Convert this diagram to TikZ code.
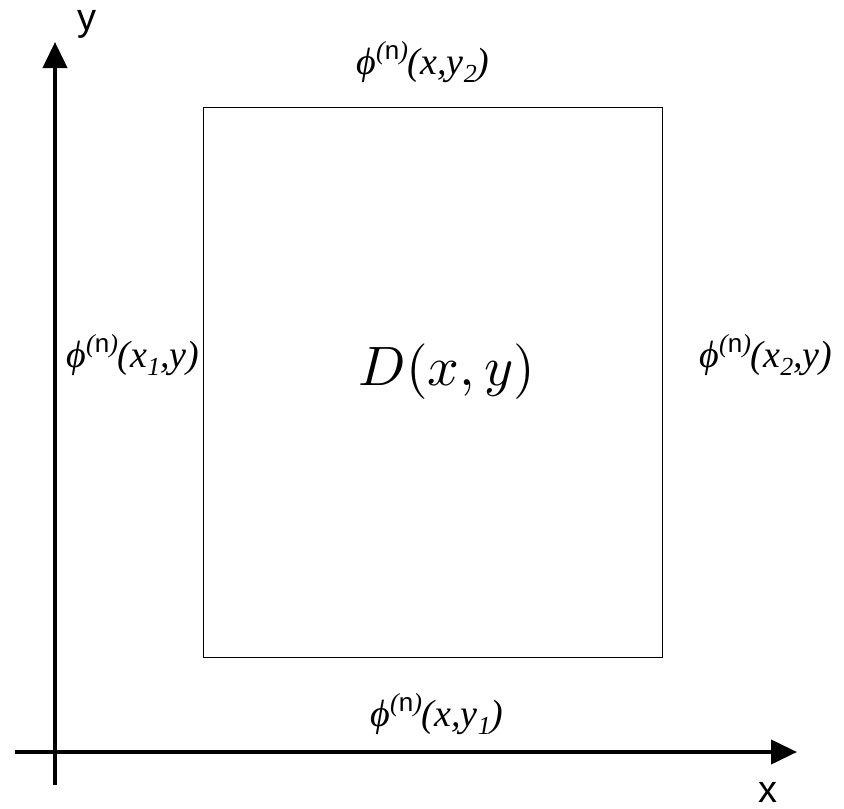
\documentclass[tikz,border=0pt]{standalone}
\usepackage{fontspec}
\newfontfamily\timesf{Liberation Serif}
\newfontfamily\arialf{Liberation Sans}
\usetikzlibrary{arrows.meta}
\newcommand{\phisup}{ϕ\raisebox{0.40em}{\fontsize{26}{28}\selectfont(\arialf\upshape n\timesf\itshape)}}
\newcommand{\lsub}[1]{\raisebox{-0.22em}{\fontsize{26}{28}\selectfont #1}}
\tikzset{
  axis/.style={line width=4pt,-{Triangle[length=26pt,width=24pt]}},
  bnd/.style={font=\timesf\fontsize{38}{40}\selectfont\itshape, inner sep=0pt},
  axlab/.style={font=\arialf\fontsize{38}{42}\selectfont, inner sep=0pt, anchor=base}
}
\begin{document}
\begin{tikzpicture}[x=1pt,y=-1pt]
\useasboundingbox (0,0) rectangle (844,809);
\coordinate (ystart) at (55,785);
\coordinate (yend) at (55,42);
\coordinate (xstart) at (15,752);
\coordinate (xend) at (797,752);
\draw[axis] (ystart) -- (yend);
\draw[axis] (xstart) -- (xend);
\node[draw, line width=1pt, minimum width=459pt, minimum height=550pt, inner sep=0pt] (dom) at (432.5,382) {};
\node[axlab] (ylab) at (87,30) {y};
\node[axlab] (xlab) at (768,802) {x};
\node[bnd] (top) at (423,62) {\phisup(x,y\lsub{2})};
\node[bnd] (left) at (133,355) {\phisup(x\lsub{1},y)};
\node[bnd] (right) at (766,355) {\phisup(x\lsub{2},y)};
\node[bnd] (bot) at (437,714) {\phisup(x,y\lsub{1})};
\node[inner sep=0pt] (D) at (447,372) {\scalebox{5.55}{$D(x,y)$}};
\end{tikzpicture}
\end{document}
